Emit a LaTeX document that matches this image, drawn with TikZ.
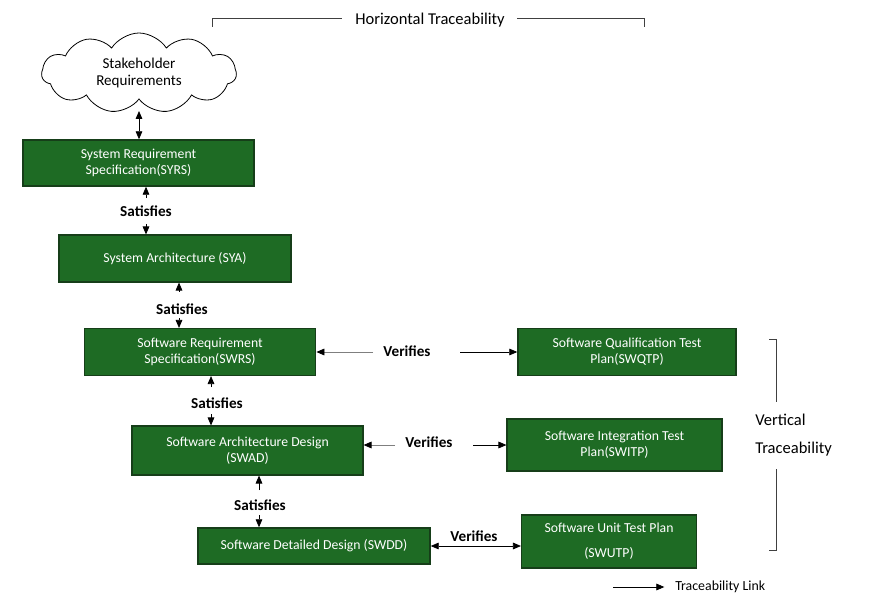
\documentclass[tikz,border=0pt]{standalone}
\usepackage{fontspec}
\setmainfont{Carlito}
\usetikzlibrary{arrows.meta,shapes.symbols}
\definecolor{boxgreen}{HTML}{1E6B24}
\definecolor{boxedge}{HTML}{163E19}
\definecolor{arrgray}{HTML}{7F7F7F}
\begin{document}
\begin{tikzpicture}[x=0.75pt,y=-0.75pt,
  box/.style={draw=boxedge,line width=1.1pt,fill=boxgreen,text=white,align=center,inner sep=0pt,font=\fontsize{10.3}{12}\selectfont},
  lbl/.style={font=\bfseries\fontsize{11.4}{13}\selectfont,inner sep=0pt},
  arr/.style={-{Triangle[length=6pt,width=5pt,color=black]},line width=0.6pt},
  darr/.style={{Triangle[length=6pt,width=5pt,color=black]}-{Triangle[length=6pt,width=5pt,color=black]},line width=0.6pt},
  brk/.style={line width=0.6pt,draw=black!75},
  big/.style={font=\fontsize{12.4}{14}\selectfont,inner sep=0pt}]
\useasboundingbox (0,0) rectangle (877,598);

% cloud
\node[cloud,draw=black,line width=0.6pt,cloud puffs=11,cloud puff arc=115,aspect=2.8,
      minimum width=146pt,minimum height=60pt,inner sep=0pt,align=center,
      font=\fontsize{11.3}{13}\selectfont] (stake) at (139,73) {Stakeholder\\Requirements};

% left column boxes
\node[box,minimum width=173pt,minimum height=34.5pt] (syrs) at (138.5,163) {System Requirement\\Specification(SYRS)};
\node[box,minimum width=174pt,minimum height=35pt] (sya) at (175,258.5) {System Architecture (SYA)};
\node[box,minimum width=173.5pt,minimum height=35pt] (swrs) at (200,352) {Software Requirement\\Specification(SWRS)};
\node[box,minimum width=173pt,minimum height=36.5pt] (swad) at (247.5,450.5) {Software Architecture Design\\(SWAD)};
\node[box,minimum width=174pt,minimum height=27pt] (swdd) at (314,546) {Software Detailed Design (SWDD)};

% right column boxes
\node[box,minimum width=163.5pt,minimum height=35.5pt] (swqtp) at (627,352) {Software Qualification Test\\Plan(SWQTP)};
\node[box,minimum width=161pt,minimum height=39pt] (switp) at (614.5,445) {Software Integration Test\\Plan(SWITP)};
\node[box,minimum width=131pt,minimum height=40pt,font=\fontsize{10.3}{19}\selectfont] (swutp) at (609,541.5) {Software Unit Test Plan\\(SWUTP)};

% cloud link
\draw[darr] (syrs.north -| 139,0) -- (139,111);

% Satisfies links
\node[lbl,minimum height=19pt] (s1) at (146,211) {Satisfies};
\draw[arr] (s1.north) -- (s1.north |- syrs.south);
\draw[arr] (s1.south) -- (s1.south |- sya.north);

\node[lbl] (s2) at (182,309) {Satisfies};
\coordinate (s2u) at (179,292);
\coordinate (s2d) at (179,318);
\draw[arr] (s2u) -- (s2u |- sya.south);
\draw[arr] (s2d) -- (s2d |- swrs.north);

\node[lbl] (s3) at (217,403) {Satisfies};
\coordinate (s3u) at (211,387);
\coordinate (s3d) at (211,414);
\draw[arr] (s3u) -- (s3u |- swrs.south);
\draw[arr] (s3d) -- (s3d |- swad.north);

\node[lbl] (s4) at (260,505) {Satisfies};
\coordinate (s4u) at (259,490);
\coordinate (s4d) at (259,515);
\draw[arr] (s4u) -- (s4u |- swad.south);
\draw[arr] (s4d) -- (s4d |- swdd.north);

% Verifies links
\node[lbl] (v1) at (407,351) {Verifies};
\coordinate (v1l) at (373,352);
\coordinate (v1r) at (460,352);
\draw[arr,draw=arrgray] (v1l) -- (swrs.east |- v1l);
\draw[arr] (v1r) -- (swqtp.west |- v1r);

\node[lbl] (v2) at (429,442) {Verifies};
\coordinate (v2l) at (395,445);
\coordinate (v2r) at (473,445);
\draw[arr,draw=arrgray] (v2l) -- (swad.east |- v2l);
\draw[arr] (v2r) -- (switp.west |- v2r);

\node[lbl] (v3) at (474,536) {Verifies};
\draw[darr] (swdd.east) -- (swutp.west |- swdd.east);

% horizontal traceability bracket
\node[big] (ht) at (430,20) {Horizontal Traceability};
\draw[brk] (212,27) -- (212,18) -- (342,18);
\draw[brk] (517,18) -- (644,18) -- (644,27);

% vertical traceability bracket
\draw[brk] (769,339) -- (776,339) -- (776,402);
\draw[brk] (776,469) -- (776,550) -- (769,550);
\node[big,anchor=west] (vt1) at (755,420) {Vertical};
\node[big,anchor=west] (vt2) at (755,449) {Traceability};

% legend
\node[anchor=west,inner sep=0pt,font=\fontsize{10.4}{12}\selectfont] (leg) at (675,587) {Traceability Link};
\coordinate (lega) at (613,587);
\draw[arr,shorten >=8pt] (lega) -- (leg.west);
\end{tikzpicture}
\end{document}
